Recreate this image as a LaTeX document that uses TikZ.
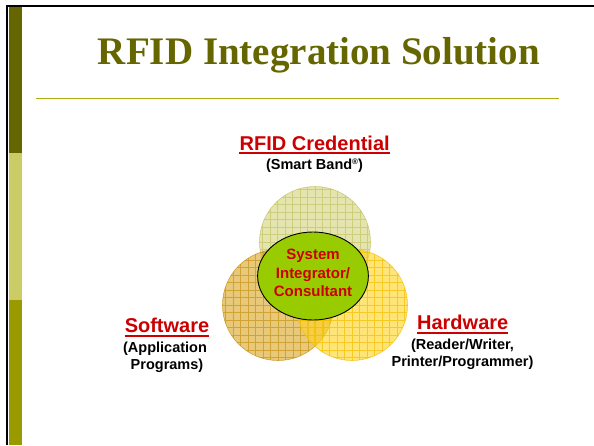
\documentclass[tikz,border=0pt]{standalone}
\usepackage{fontspec}
\setmainfont{Liberation Sans}
\newfontfamily\titlefont{Liberation Serif}
\usetikzlibrary{shapes.geometric}
\definecolor{olivedark}{HTML}{666600}
\definecolor{olivelight}{HTML}{CCCC66}
\definecolor{olivemid}{HTML}{999900}
\definecolor{ruleolive}{HTML}{AFAF10}
\definecolor{labelred}{HTML}{CC0000}
\definecolor{greencore}{HTML}{99CC00}
\definecolor{topfill}{HTML}{D2D27A}
\definecolor{topgrid}{HTML}{C4C466}
\definecolor{leftfill}{HTML}{D9A520}
\definecolor{leftgrid}{HTML}{C89418}
\definecolor{rightfill}{HTML}{FFD21F}
\definecolor{rightgrid}{HTML}{F5C000}
\tikzset{
  venn/.style n args={2}{circle, minimum size=111pt, inner sep=0pt,
    fill=#1, fill opacity=0.6, draw=#2, draw opacity=0.8, line width=0.6pt,
    path picture={\draw[#2, line width=0.6pt, opacity=0.7, step=7.5pt]
      (path picture bounding box.south west) grid (path picture bounding box.north east);}},
  heading/.style={font=\bfseries\fontsize{20}{22}\selectfont, text=labelred, inner sep=0pt, anchor=base},
  sub/.style={font=\bfseries\fontsize{14.5}{17}\selectfont, text=black, inner sep=0pt, anchor=base},
  ulrule/.style={labelred, line width=2pt},
}
\begin{document}
\begin{tikzpicture}[x=1pt,y=-1pt]
\useasboundingbox (0,0) rectangle (594,445);
\fill[white] (0,0) rectangle (594,445);
% left bar and frame
\fill[olivedark] (8.5,7) rectangle (22,152.5);
\fill[olivelight] (8.5,152.5) rectangle (22,300);
\fill[olivemid] (8.5,300) rectangle (22,445);
\fill[black] (6,5) rectangle (594,7.3);
\fill[black] (6,5) rectangle (8.3,445);
% title
\node[font=\titlefont\bfseries\fontsize{39}{44}\selectfont, text=olivedark, anchor=base, inner sep=0pt] (title) at (319,64) {RFID Integration Solution};
\coordinate (ruleL) at (36,98.3);
\coordinate (ruleR) at (558.5,98.3);
\draw[ruleolive, line width=1.4pt] (ruleL) -- (ruleR);
% venn circles
\node[venn={topfill}{topgrid}] (cred) at (315,242) {};
\node[venn={leftfill}{leftgrid}] (soft) at (278,305) {};
\node[venn={rightfill}{rightgrid}] (hard) at (352,305) {};
% core
\node[ellipse, minimum width=99pt, minimum height=88pt, inner sep=0pt, fill=greencore, draw=black, line width=0.9pt,
  font=\bfseries\fontsize{15}{18.3}\selectfont, text=labelred, align=center] (core) at (313,276)
  {System\\Integrator/\\Consultant\rule[-6pt]{0pt}{0pt}};
% labels
\node[heading] (credh) at (314.7,150) {RFID Credential};
\draw[ulrule] ([yshift=-3.2pt]credh.base west) -- ([yshift=-3.2pt]credh.base east);
\node[sub] (credsub) at (314.5,169) {(Smart Band\raisebox{4.5pt}{\fontsize{8}{8}\selectfont ®})};
\node[heading] (softh) at (167,332.7) {Software};
\draw[ulrule] ([yshift=-3.5pt]softh.base west) -- ([yshift=-3.5pt]softh.base east);
\node[sub] (softa) at (165,352.7) {(Application};
\node[sub] (softb) at (167,369.5) {Programs)};
\node[heading] (hardh) at (462.7,329) {Hardware};
\draw[ulrule] ([yshift=-3.5pt]hardh.base west) -- ([yshift=-3.5pt]hardh.base east);
\node[sub] (harda) at (462.5,349.3) {(Reader/Writer,};
\node[sub] (hardb) at (462.5,366.7) {Printer/Programmer)};
\end{tikzpicture}
\end{document}
